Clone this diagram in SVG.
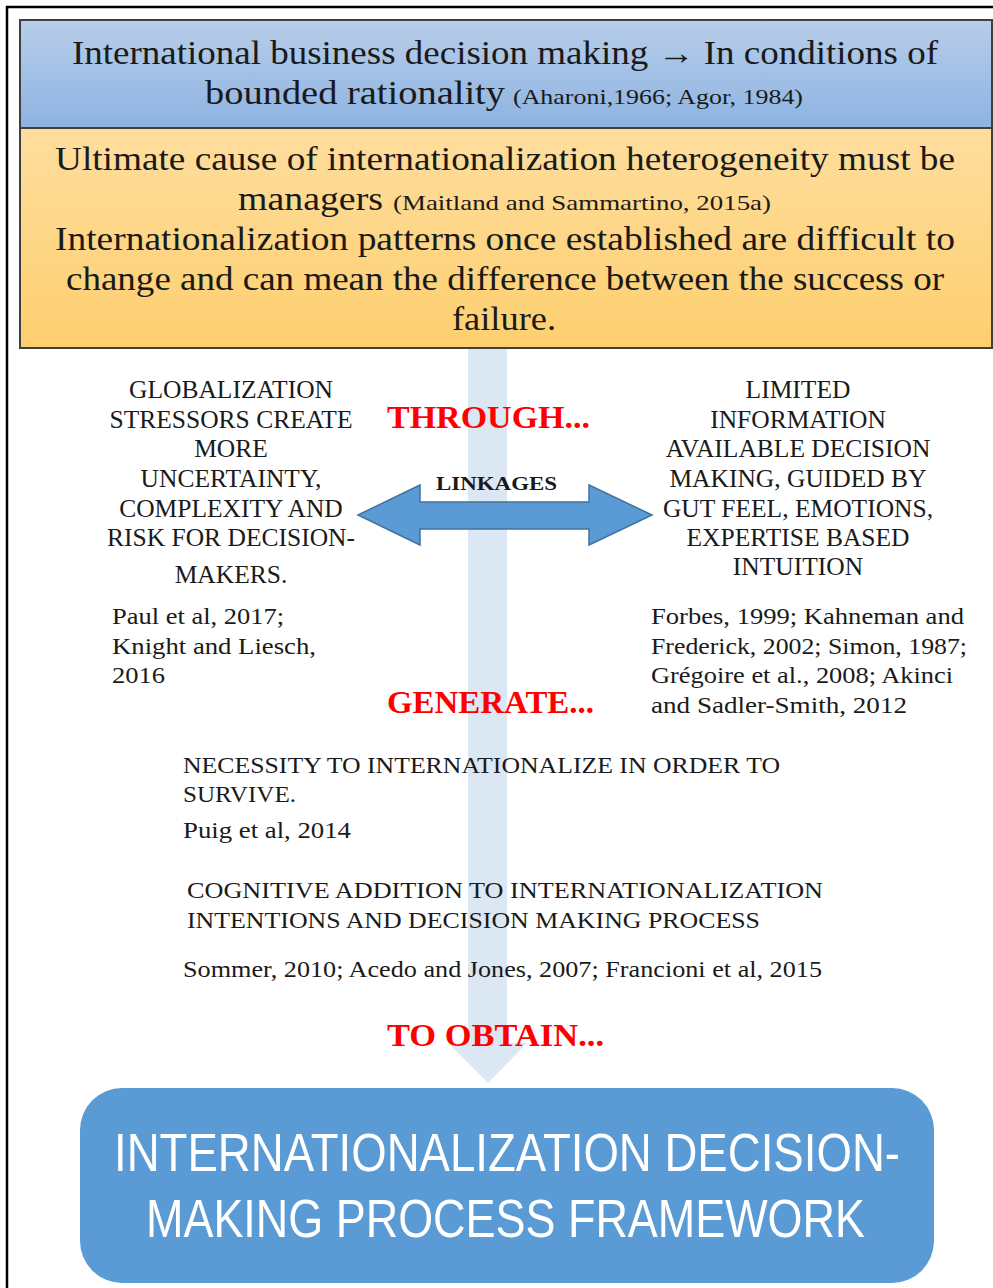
<svg xmlns="http://www.w3.org/2000/svg" width="993" height="1288" viewBox="0 0 993 1288">
  <defs>
    <linearGradient id="gBlue" x1="0" y1="0" x2="0" y2="1">
      <stop offset="0" stop-color="#b8cee9"/>
      <stop offset="1" stop-color="#8db3e2"/>
    </linearGradient>
    <linearGradient id="gOrange" x1="0" y1="0" x2="0" y2="1">
      <stop offset="0" stop-color="#fedd9e"/>
      <stop offset="1" stop-color="#fdcf6e"/>
    </linearGradient>
    <style>
      .serif { font-family: "Liberation Serif", "DejaVu Serif", serif; fill: #1a1a1a; }
      .big { font-size: 33px; }
      .cite { font-size: 22px; }
      .side { font-size: 25.5px; text-anchor: middle; }
      .ref { font-size: 24px; }
      .mid { font-size: 24px; }
      .red { font-family: "Liberation Serif", serif; font-weight: bold; font-size: 31px; fill: #ff0000; }
      .box { stroke: #3f3f3f; stroke-width: 2; }
      .final { font-family: "Liberation Sans", "Open Sans", sans-serif; font-size: 45px; fill: #ffffff; }
    </style>
  </defs>

  <rect width="993" height="1288" fill="#ffffff"/>

  <!-- outer frame -->
  <path d="M7 1288 V7 H993" fill="none" stroke="#000000" stroke-width="2.5"/>

  <!-- flow arrow running down through the figure, and the two-way linkage arrow -->
  <g id="connectors">
    <path id="flow-arrow" d="M468 348 H507 V1043 H527 L488 1083 L448 1043 H468 Z" fill="#dce7f4"/>
    <path id="linkages-arrow" d="M358 515 L420 485 V502 H589 V485 L652 515 L589 545 V529 H420 V545 Z" fill="#5b9bd5" stroke="#41719c" stroke-width="1.5"/>
  </g>

  <!-- header: bounded rationality -->
  <g id="header">
    <rect class="box" x="20" y="20" width="972" height="108" fill="url(#gBlue)"/>
    <text class="serif big" x="72" y="64" textLength="866" lengthAdjust="spacingAndGlyphs">International business decision making → In conditions of</text>
    <text class="serif" x="205" y="104"><tspan class="big" textLength="300" lengthAdjust="spacingAndGlyphs">bounded rationality</tspan><tspan class="cite" x="513" textLength="290" lengthAdjust="spacingAndGlyphs">(Aharoni,1966; Agor, 1984)</tspan></text>
  </g>

  <!-- managers as ultimate cause -->
  <g id="cause">
    <rect class="box" x="20" y="128" width="972" height="220" fill="url(#gOrange)"/>
    <text class="serif big" x="55" y="170" textLength="900" lengthAdjust="spacingAndGlyphs">Ultimate cause of internationalization heterogeneity must be</text>
    <text class="serif" x="238" y="210"><tspan class="big" textLength="145" lengthAdjust="spacingAndGlyphs">managers</tspan><tspan class="cite" x="393" textLength="378" lengthAdjust="spacingAndGlyphs">(Maitland and Sammartino, 2015a)</tspan></text>
    <text class="serif big" x="55" y="250" textLength="900" lengthAdjust="spacingAndGlyphs">Internationalization patterns once established are difficult to</text>
    <text class="serif big" x="66" y="290" textLength="878" lengthAdjust="spacingAndGlyphs">change and can mean the difference between the success or</text>
    <text class="serif big" x="452" y="330" textLength="104" lengthAdjust="spacingAndGlyphs">failure.</text>
  </g>

  <!-- stage labels -->
  <g id="through">
    <text class="red" x="387" y="428" textLength="203" lengthAdjust="spacingAndGlyphs">THROUGH...</text>
  </g>
  <g id="linkages">
    <text class="serif" x="436" y="490" font-size="19" font-weight="bold" textLength="121" lengthAdjust="spacingAndGlyphs">LINKAGES</text>
  </g>
  <g id="generate">
    <text class="red" x="387" y="713" textLength="207" lengthAdjust="spacingAndGlyphs">GENERATE...</text>
  </g>
  <g id="obtain">
    <text class="red" x="387" y="1046" textLength="217" lengthAdjust="spacingAndGlyphs">TO OBTAIN...</text>
  </g>

  <!-- left: globalization stressors -->
  <g id="stressors">
    <text class="serif side" x="231" y="398">GLOBALIZATION</text>
    <text class="serif side" x="231" y="428">STRESSORS CREATE</text>
    <text class="serif side" x="231" y="457">MORE</text>
    <text class="serif side" x="231" y="487">UNCERTAINTY,</text>
    <text class="serif side" x="231" y="517">COMPLEXITY AND</text>
    <text class="serif side" x="231" y="546">RISK FOR DECISION-</text>
    <text class="serif side" x="231" y="583">MAKERS.</text>
    <text class="serif ref" x="112" y="624" textLength="172" lengthAdjust="spacingAndGlyphs">Paul et al, 2017;</text>
    <text class="serif ref" x="112" y="654" textLength="204" lengthAdjust="spacingAndGlyphs">Knight and Liesch,</text>
    <text class="serif ref" x="112" y="683" textLength="53" lengthAdjust="spacingAndGlyphs">2016</text>
  </g>

  <!-- right: limited information -->
  <g id="limited-information">
    <text class="serif side" x="798" y="398">LIMITED</text>
    <text class="serif side" x="798" y="428">INFORMATION</text>
    <text class="serif side" x="798" y="457">AVAILABLE DECISION</text>
    <text class="serif side" x="798" y="487">MAKING, GUIDED BY</text>
    <text class="serif side" x="798" y="517">GUT FEEL, EMOTIONS,</text>
    <text class="serif side" x="798" y="546">EXPERTISE BASED</text>
    <text class="serif side" x="798" y="575">INTUITION</text>
    <text class="serif ref" x="651" y="624" textLength="313" lengthAdjust="spacingAndGlyphs">Forbes, 1999; Kahneman and</text>
    <text class="serif ref" x="651" y="654" textLength="316" lengthAdjust="spacingAndGlyphs">Frederick, 2002; Simon, 1987;</text>
    <text class="serif ref" x="651" y="683" textLength="302" lengthAdjust="spacingAndGlyphs">Grégoire et al., 2008; Akinci</text>
    <text class="serif ref" x="651" y="713" textLength="256" lengthAdjust="spacingAndGlyphs">and Sadler-Smith, 2012</text>
  </g>

  <!-- necessity to internationalize -->
  <g id="necessity">
    <text class="serif mid" x="183" y="773" textLength="597" lengthAdjust="spacingAndGlyphs">NECESSITY TO INTERNATIONALIZE IN ORDER TO</text>
    <text class="serif mid" x="183" y="802" textLength="113" lengthAdjust="spacingAndGlyphs">SURVIVE.</text>
    <text class="serif mid" x="183" y="838" textLength="168" lengthAdjust="spacingAndGlyphs">Puig et al, 2014</text>
  </g>

  <!-- cognitive addition -->
  <g id="cognitive-addition">
    <text class="serif mid" x="187" y="898" textLength="636" lengthAdjust="spacingAndGlyphs">COGNITIVE ADDITION TO INTERNATIONALIZATION</text>
    <text class="serif mid" x="187" y="928" textLength="573" lengthAdjust="spacingAndGlyphs">INTENTIONS AND DECISION MAKING PROCESS</text>
    <text class="serif mid" x="183" y="977" textLength="639" lengthAdjust="spacingAndGlyphs">Sommer, 2010; Acedo and Jones, 2007; Francioni et al, 2015</text>
  </g>

  <!-- resulting framework; lettering stretched vertically for a narrow, tall face -->
  <g id="framework">
    <rect x="80" y="1088" width="854" height="195" rx="42" ry="42" fill="#5b9bd5"/>
    <g transform="scale(1,1.2)">
      <text class="final" x="114" y="975.8" textLength="786" lengthAdjust="spacingAndGlyphs">INTERNATIONALIZATION DECISION-</text>
      <text class="final" x="146" y="1030.8" textLength="719" lengthAdjust="spacingAndGlyphs">MAKING PROCESS FRAMEWORK</text>
    </g>
  </g>
</svg>
